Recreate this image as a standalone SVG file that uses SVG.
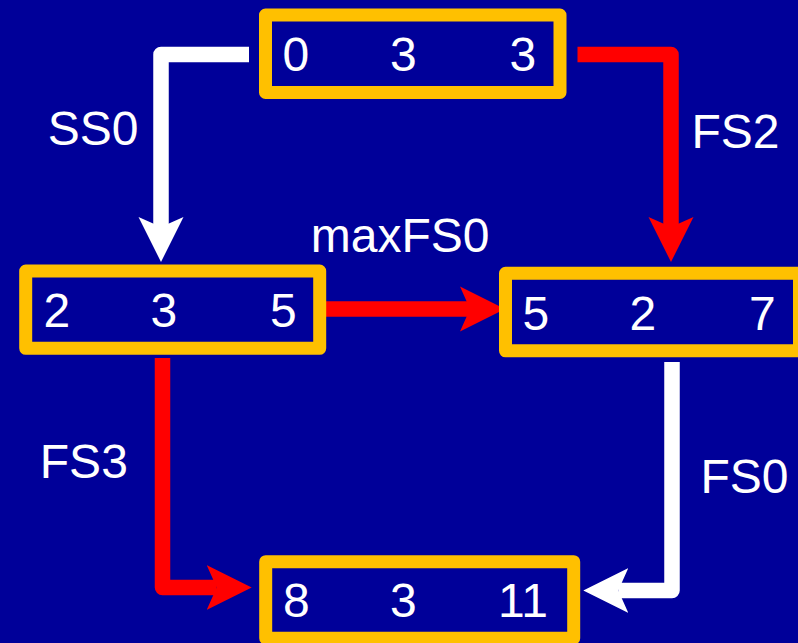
<svg xmlns="http://www.w3.org/2000/svg" width="798" height="643" viewBox="0 0 798 643">
<style>
.box{fill:none;stroke:#FFC000;stroke-width:13;stroke-linejoin:round}
.t{font-family:"Liberation Sans",Arial,sans-serif;font-size:48px;fill:#FFFFFF}
.w{fill:none;stroke:#FFFFFF;stroke-width:15.5;stroke-linejoin:round;stroke-linecap:butt}
.r{fill:none;stroke:#FF0000;stroke-width:15.5;stroke-linejoin:round;stroke-linecap:butt}
</style>
<defs>
<marker id="aw" viewBox="0 -23 46 46" markerWidth="46" markerHeight="46" refX="10" refY="0" orient="auto" markerUnits="userSpaceOnUse">
<path d="M0,-22.5 L45,0 L0,22.5 L10,0 Z" fill="#FFFFFF"/>
</marker>
<marker id="ar" viewBox="0 -23 46 46" markerWidth="46" markerHeight="46" refX="10" refY="0" orient="auto" markerUnits="userSpaceOnUse">
<path d="M0,-22.5 L45,0 L0,22.5 L10,0 Z" fill="#FF0000"/>
</marker>
</defs>
<rect x="0" y="0" width="798" height="643" fill="#000099"/>
<g id="connectors">
<path class="w" d="M249,54.5 H161 V227" marker-end="url(#aw)"/>
<path class="r" d="M577.5,54.5 H671 V227" marker-end="url(#ar)"/>
<path class="r" d="M320,309 H470" marker-end="url(#ar)"/>
<path class="r" d="M162.5,358 V587.5 H216.7" marker-end="url(#ar)"/>
<path class="w" d="M672,362 V590.5 H618.3" marker-end="url(#aw)"/>
</g>
<g id="labels">
<text class="t" x="47.8" y="145">SS0</text>
<text class="t" x="691.5" y="148.3">FS2</text>
<text class="t" x="310.8" y="252">maxFS0</text>
<text class="t" x="39.8" y="478.3">FS3</text>
<text class="t" x="700.5" y="493.3">FS0</text>
</g>
<g id="node-top">
<rect class="box" x="265.5" y="15" width="294.5" height="77.5"/>
<text class="t" x="282.5" y="71">0</text>
<text class="t" x="390" y="71">3</text>
<text class="t" x="509.5" y="71">3</text>
</g>
<g id="node-left">
<rect class="box" x="25.7" y="271" width="294" height="77.3"/>
<text class="t" x="43.5" y="327.3">2</text>
<text class="t" x="150.5" y="327.3">3</text>
<text class="t" x="270" y="327.3">5</text>
</g>
<g id="node-right">
<rect class="box" x="505.5" y="273.3" width="294" height="77.5"/>
<text class="t" x="522.5" y="330">5</text>
<text class="t" x="629.5" y="330">2</text>
<text class="t" x="749" y="330">7</text>
</g>
<g id="node-bottom">
<rect class="box" x="265.7" y="561.7" width="308" height="76.5"/>
<text class="t" x="283" y="616.7">8</text>
<text class="t" x="390" y="616.7">3</text>
<text class="t" x="498" y="616.7">11</text>
</g>
</svg>
